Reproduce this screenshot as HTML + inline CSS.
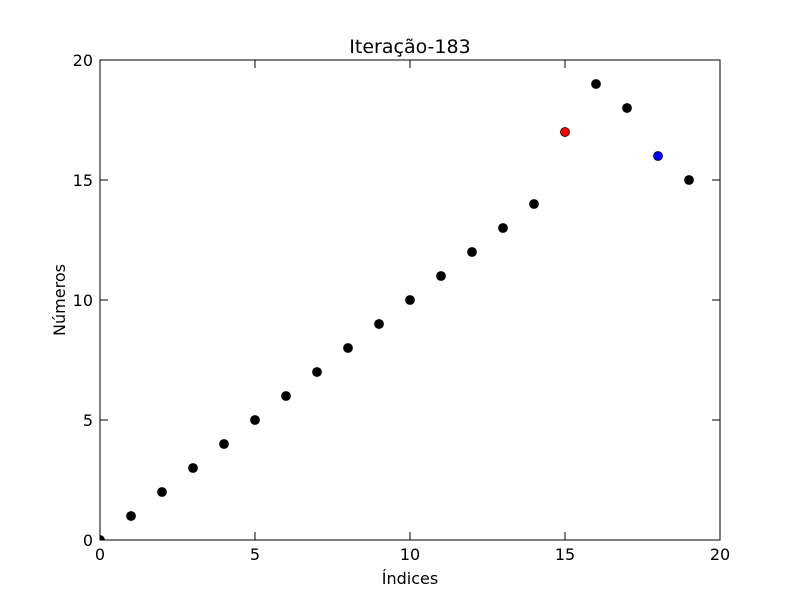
<!DOCTYPE html>
<html><head><meta charset="utf-8"><style>
html,body{margin:0;padding:0;background:#fff;}
svg text{font-family:"DejaVu Sans","Liberation Sans",sans-serif;}
</style></head><body>
<svg id="chart" width="800" height="600" xmlns="http://www.w3.org/2000/svg">
<defs><clipPath id="plotclip"><rect x="100" y="60" width="620" height="480"/></clipPath></defs>
<rect x="0" y="0" width="800" height="600" fill="#fff"/>
<g id="marks" clip-path="url(#plotclip)"></g>
<rect x="100" y="60" width="620" height="480" fill="none" stroke="#000" stroke-width="1"/>
<g id="ticks"></g>
<text x="410" y="53" font-size="19" text-anchor="middle">Iteração-183</text>
<text x="410" y="584" font-size="16" text-anchor="middle">Índices</text>
<text x="0" y="0" font-size="16" text-anchor="middle" transform="translate(65,300) rotate(-90)">Números</text>
</svg>
<script>
const indices = [0,1,2,3,4,5,6,7,8,9,10,11,12,13,14,15,16,17,18,19];
const values = [0,1,2,3,4,5,6,7,8,9,10,11,12,13,14,17,19,18,16,15];
const colors = ['k','k','k','k','k','k','k','k','k','k','k','k','k','k','k','r','k','k','b','k'];
const xTicks = [0,5,10,15,20];
const yTicks = [0,5,10,15,20];
const colorMap = {k:'#000', r:'#ff0000', b:'#0000ff'};
const NS = 'http://www.w3.org/2000/svg';
function xs(v){return 100 + v/20*620;}
function ys(v){return 540 - v/20*480;}
const marks = document.getElementById('marks');
indices.forEach((d,i)=>{
  const c = document.createElementNS(NS,'circle');
  c.setAttribute('cx', xs(d));
  c.setAttribute('cy', ys(values[i]));
  c.setAttribute('r', 4.5);
  c.setAttribute('fill', colorMap[colors[i]]);
  c.setAttribute('stroke', '#000');
  c.setAttribute('stroke-width', 0.8);
  
  
  marks.appendChild(c);
});
const ticks = document.getElementById('ticks');
function line(x1,y1,x2,y2){
  const l = document.createElementNS(NS,'line');
  l.setAttribute('x1',x1);l.setAttribute('y1',y1);l.setAttribute('x2',x2);l.setAttribute('y2',y2);
  l.setAttribute('stroke','#000');l.setAttribute('stroke-width',1);
  
  
  ticks.appendChild(l);
}
function text(x,y,s,anchor){
  const t = document.createElementNS(NS,'text');
  t.setAttribute('x',x);t.setAttribute('y',y);t.setAttribute('font-size',16);
  t.setAttribute('text-anchor',anchor);
  t.textContent = s;
  
  
  ticks.appendChild(t);
}
xTicks.forEach(v=>{
  const x = xs(v);
  line(x,540,x,532); line(x,60,x,68);
  text(x,560,String(v),'middle');
});
yTicks.forEach(v=>{
  const y = ys(v);
  line(100,y,108,y); line(720,y,712,y);
  text(93,y+6,String(v),'end');
});
</script>
</body></html>
